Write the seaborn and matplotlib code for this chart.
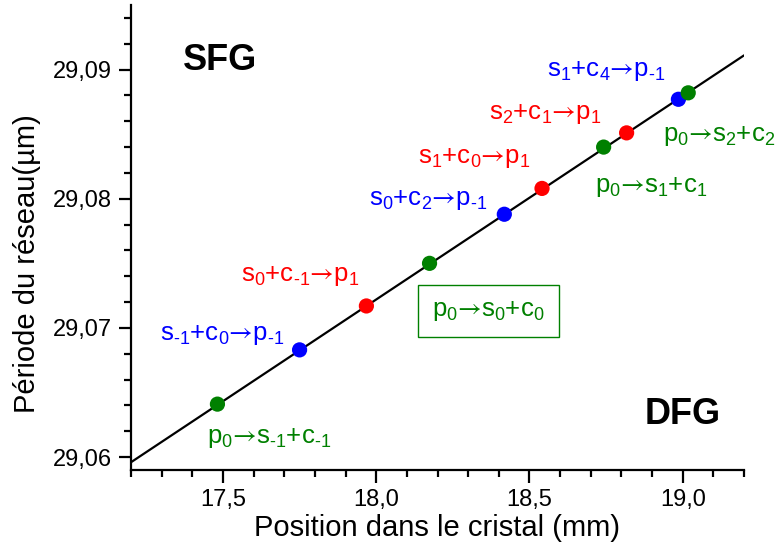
# Grating period vs. position in the crystal, with the SFG / DFG processes marked on the fit line.

import matplotlib
matplotlib.use('Agg')
import matplotlib.pyplot as plt
from matplotlib.ticker import MultipleLocator
import seaborn as sns
import pandas as pd

# measured points (position in mm, grating period in um) and the process type
pos_mm = [17.482, 17.750, 17.968, 18.174, 18.418, 18.541, 18.742, 18.817, 18.986, 19.018]
period_um = [29.0641, 29.0683, 29.0717, 29.0750, 29.0788, 29.0808, 29.0840, 29.0851, 29.0877, 29.0882]
process = ['p0', 'p-1', 'p1', 'p0', 'p-1', 'p1', 'p0', 'p1', 'p-1', 'p0']

# fitted line across the crystal
fit_x = [17.2, 19.2]
fit_y = [29.0596, 29.0911]

# labels of the processes (‐ is a plain hyphen, as in the original)
labels = [
    r'$\mathregular{s_1{+}c_4{\mathsf{→}}p_{‐1}}$',
    r'$\mathregular{s_2{+}c_1{\mathsf{→}}p_1}$',
    r'$\mathregular{s_1{+}c_0{\mathsf{→}}p_1}$',
    r'$\mathregular{s_0{+}c_2{\mathsf{→}}p_{‐1}}$',
    r'$\mathregular{s_0{+}c_{‐1}{\mathsf{→}}p_1}$',
    r'$\mathregular{s_{‐1}{+}c_0{\mathsf{→}}p_{‐1}}$',
    r'$\mathregular{p_0{\mathsf{→}}s_{‐1}{+}c_{‐1}}$',
    r'$\mathregular{p_0{\mathsf{→}}s_1{+}c_1}$',
    r'$\mathregular{p_0{\mathsf{→}}s_2{+}c_2}$',
]
label_kind = ['p-1', 'p1', 'p1', 'p-1', 'p1', 'p-1', 'p0', 'p0', 'p0']
boxed_label = r'$\mathregular{p_0{\mathsf{→}}s_0{+}c_0}$'

x_ticks = [17.5, 18.0, 18.5, 19.0]
x_ticklabels = ['17,5', '18,0', '18,5', '19,0']
y_ticks = [29.06, 29.07, 29.08, 29.09]
y_ticklabels = ['29,06', '29,07', '29,08', '29,09']

# layout (left / baseline anchor of each label, in data units)
label_pos = [(18.557, 29.0895), (18.368, 29.0862), (18.136, 29.0828), (17.977, 29.0795),
             (17.559, 29.0736), (17.295, 29.0691), (17.448, 29.0611), (18.714, 29.0805),
             (18.936, 29.0845)]
palette = {'p0': '#008000', 'p1': '#ff0000', 'p-1': '#0000ff'}

sns.set_style('ticks')
plt.rcParams['font.family'] = ['Liberation Sans', 'DejaVu Sans']
plt.rcParams['mathtext.fontset'] = 'custom'
plt.rcParams['mathtext.rm'] = 'Liberation Sans'
plt.rcParams['mathtext.it'] = 'Liberation Sans:italic'
plt.rcParams['mathtext.bf'] = 'Liberation Sans:bold'
plt.rcParams['mathtext.sf'] = 'STIXGeneral'  # thin, long arrow
plt.rcParams['text.color'] = 'black'
plt.rcParams['axes.labelcolor'] = 'black'
plt.rcParams['xtick.color'] = 'black'
plt.rcParams['ytick.color'] = 'black'
plt.rcParams['axes.edgecolor'] = 'black'

df = pd.DataFrame({'pos': pos_mm, 'period': period_um, 'process': process})

fig = plt.figure(figsize=(7.76, 5.52), dpi=100)
ax = fig.add_axes([131 / 776, 1 - 470 / 552, 613 / 776, 465 / 552])

sns.lineplot(x=fit_x, y=fit_y, color='black', linewidth=1.6, ax=ax)
sns.scatterplot(data=df, x='pos', y='period', hue='process', palette=palette,
                s=120, linewidth=0, legend=False, ax=ax, zorder=3)

for text, kind, (tx, ty) in zip(labels, label_kind, label_pos):
    ax.text(tx, ty, text, color=palette[kind], fontsize=18.5, ha='left', va='baseline')

ax.text(18.366, 29.0713, boxed_label, color=palette['p0'], fontsize=18.5,
        ha='center', va='center',
        bbox=dict(boxstyle='square,pad=0.55', facecolor='white', edgecolor=palette['p0'], linewidth=1))

ax.text(17.370, 29.0900, 'SFG', fontsize=26, fontweight='bold', ha='left', va='baseline')
ax.text(18.877, 29.0626, 'DFG', fontsize=26, fontweight='bold', ha='left', va='baseline')

ax.set_xlim(17.2, 19.2)
ax.set_ylim(29.059, 29.095)
ax.set_xticks(x_ticks)
ax.set_xticklabels(x_ticklabels)
ax.set_yticks(y_ticks)
ax.set_yticklabels(y_ticklabels)
ax.xaxis.set_minor_locator(MultipleLocator(0.1))
ax.yaxis.set_minor_locator(MultipleLocator(0.002))
ax.tick_params(which='major', direction='out', length=9, width=1.6, labelsize=17, pad=5)
ax.tick_params(which='minor', direction='out', length=5, width=1.6)

ax.set_xlabel('Position dans le cristal (mm)', fontsize=21, labelpad=2)
ax.set_ylabel('Période du réseau(µm)', fontsize=21)
ax.yaxis.set_label_coords(-0.147, 0.444)

sns.despine(ax=ax)
for side in ['left', 'bottom']:
    ax.spines[side].set_linewidth(1.6)

fig.savefig('out.png', dpi=100)
